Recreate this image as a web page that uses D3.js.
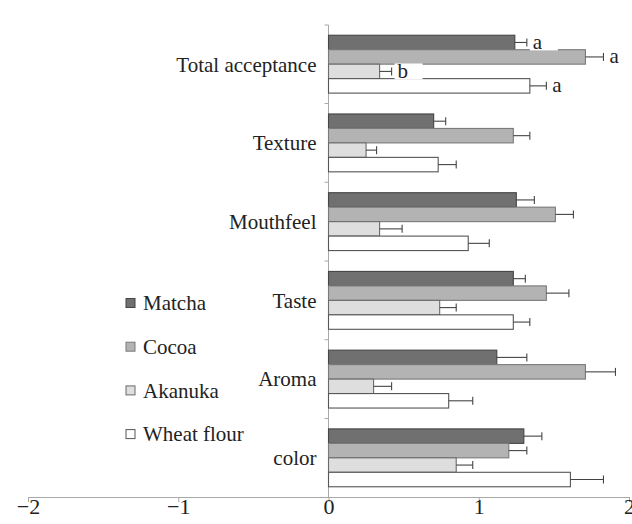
<!DOCTYPE html>
<html><head><meta charset="utf-8">
<script src="https://cdn.jsdelivr.net/npm/d3@7"></script>
<style>body{margin:0;background:#fff}svg{display:block}</style>
</head><body>
<svg id="c" width="632" height="524"></svg>
<script>
const categories = ["Total acceptance","Texture","Mouthfeel","Taste","Aroma","color"];
const seriesNames = ["Matcha","Cocoa","Akanuka","Wheat flour"];
const matcha    = [1.24, 0.70, 1.25, 1.23, 1.12, 1.30];
const cocoa     = [1.71, 1.23, 1.51, 1.45, 1.71, 1.20];
const akanuka   = [0.34, 0.25, 0.34, 0.74, 0.30, 0.85];
const wheat     = [1.34, 0.73, 0.93, 1.23, 0.80, 1.61];
const matchaErr = [0.08, 0.08, 0.12, 0.08, 0.20, 0.12];
const cocoaErr  = [0.12, 0.11, 0.12, 0.15, 0.20, 0.12];
const akanukaErr= [0.08, 0.07, 0.15, 0.11, 0.12, 0.11];
const wheatErr  = [0.11, 0.12, 0.14, 0.11, 0.16, 0.22];
const sigLetters = [["a","a","b","a"],null,null,null,null,null];
const xTicks = [-2,-1,0,1,2];

const values = [matcha, cocoa, akanuka, wheat];
const errs = [matchaErr, cocoaErr, akanukaErr, wheatErr];
const fills = ["#707070","#b3b3b3","#dedede","#ffffff"];
const strokes = ["#454545","#7a7a7a","#6a6a6a","#555555"];

const svg = d3.select("#c");
const font = "'Liberation Serif','Times New Roman',serif";
const x = d3.scaleLinear().domain([-2,2]).range([28,629]);
const y = d3.scaleBand().domain(categories).range([25,497]).paddingInner(0.265).paddingOuter(0.13);
const ys = d3.scaleBand().domain(seriesNames).range([0,y.bandwidth()]).padding(0);

// axes
const xAxis = d3.axisBottom(x).tickValues(xTicks).tickSize(5).tickFormat(d => d < 0 ? "\u2212" + Math.abs(d) : d);
const gx = svg.append("g").attr("transform","translate(0,497)").call(xAxis);
gx.select(".domain").attr("stroke","#a8a8a8");
gx.selectAll(".tick line").attr("stroke","#a8a8a8");
gx.selectAll("text").attr("font-family",font).attr("font-size",22).attr("fill","#222").attr("dy","0.42em");

const boundaries = [25].concat(categories.map((c,i)=> i<categories.length-1 ? (y(c)+y.bandwidth()+y(categories[i+1]))/2 : null).filter(v=>v!==null));
svg.append("line").attr("x1",x(0)).attr("x2",x(0)).attr("y1",25).attr("y2",497).attr("stroke","#a8a8a8");
svg.selectAll(".ytick").data(boundaries).enter().append("line")
  .attr("x1",x(0)-4).attr("x2",x(0)).attr("y1",d=>d).attr("y2",d=>d).attr("stroke","#a8a8a8");

// category labels
svg.selectAll(".cat").data(categories).enter().append("text")
  .attr("x",x(0)-12).attr("y",d=>y(d)+y.bandwidth()/2).attr("dy","0.35em")
  .attr("text-anchor","end").attr("font-family",font).attr("font-size",21).attr("fill","#222")
  .text(d=>d);

// bars
seriesNames.forEach((s,si)=>{
  const g = svg.append("g");
  categories.forEach((c,ci)=>{
    const v = values[si][ci], e = errs[si][ci];
    const y0 = y(c)+ys(s), h = ys.bandwidth(), yc = y0+h/2;
    g.append("rect").attr("x",x(0)).attr("y",y0).attr("width",x(v)-x(0)).attr("height",h)
      .attr("fill",fills[si]).attr("stroke",strokes[si]).attr("stroke-width",1.1);
    g.append("line").attr("x1",x(v)).attr("x2",x(v+e)).attr("y1",yc).attr("y2",yc).attr("stroke","#444").attr("stroke-width",1.1);
    g.append("line").attr("x1",x(v+e)).attr("x2",x(v+e)).attr("y1",yc-4).attr("y2",yc+4).attr("stroke","#444").attr("stroke-width",1.1);
  });
});

// significance letters
categories.forEach((c,ci)=>{
  const L = sigLetters[ci]; if(!L) return;
  seriesNames.forEach((s,si)=>{
    const v = values[si][ci], e = errs[si][ci];
    const yc = y(c)+ys(s)+ys.bandwidth()/2;
    const tx = x(v+e)+6;
    svg.append("rect").attr("x",tx-3).attr("y",yc-8).attr("width",28).attr("height",16).attr("fill","#fff");
    svg.append("text").attr("x",tx).attr("y",yc).attr("dy","0.3em")
      .attr("font-family",font).attr("font-size",21).attr("fill","#222").text(L[si]);
  });
});

// legend
const lg = svg.append("g");
seriesNames.forEach((s,i)=>{
  const cy = 303 + i*43.7;
  lg.append("rect").attr("x",126).attr("y",cy-4.5).attr("width",9).attr("height",9)
    .attr("fill",fills[i]).attr("stroke",strokes[i]).attr("stroke-width",1);
  lg.append("text").attr("x",143).attr("y",cy).attr("dy","0.35em")
    .attr("font-family",font).attr("font-size",21).attr("fill","#222").text(s);
});
</script>
</body></html>
